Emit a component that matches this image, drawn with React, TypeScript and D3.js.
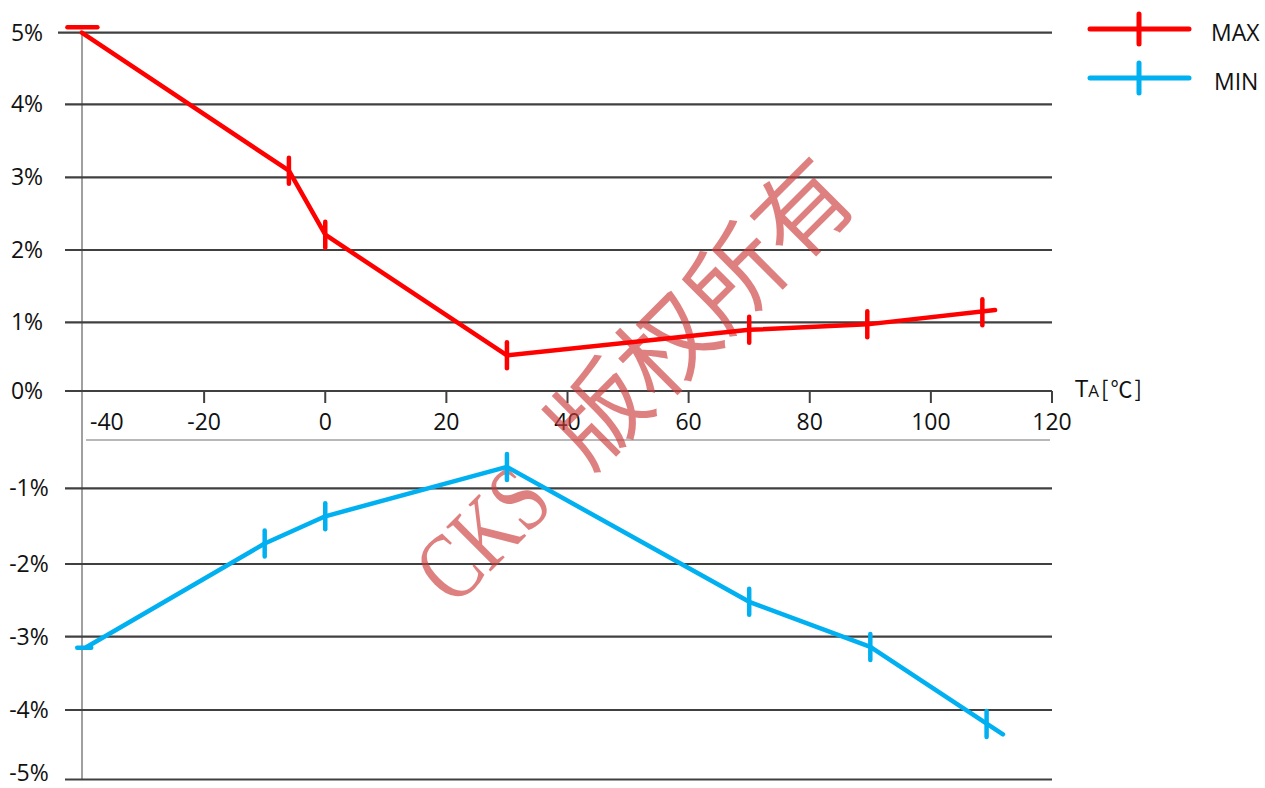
import React from "react";
import * as d3 from "d3";

// ---- data ----
const X_TICKS = [-40, -20, 0, 20, 40, 60, 80, 100, 120];
const Y_TICKS = [-5, -4, -3, -2, -1, 0, 1, 2, 3, 4, 5];
const Y_TICK_LABELS = ["-5%", "-4%", "-3%", "-2%", "-1%", "0%", "1%", "2%", "3%", "4%", "5%"];

const MAX_TEMPS = [-40.2, -6, 0, 30, 70, 89.5, 110.6];
const MAX_VALUES = [5.0, 3.09, 2.21, 0.52, 0.89, 0.97, 1.17];
const MAX_MARKER_TEMPS = [-40.1, -6, 0, 30, 70, 89.5, 108.5];
const MAX_MARKER_VALUES = [5.075, 3.09, 2.21, 0.52, 0.89, 0.97, 1.14];
const MAX_MARKER_KIND = ["h", "v", "v", "v", "v", "v", "v"];

const MIN_TEMPS = [-39.4, -10, 0, 30, 70, 90, 111.9];
const MIN_VALUES = [-3.14, -1.73, -1.37, -0.78, -2.52, -3.14, -4.35];
const MIN_MARKER_TEMPS = [-39.8, -10, 0, 30, 70, 90, 109.2];
const MIN_MARKER_VALUES = [-3.15, -1.73, -1.37, -0.78, -2.52, -3.14, -4.2];
const MIN_MARKER_KIND = ["h", "v", "v", "v", "v", "v", "v"];

const SERIES_NAMES = ["MAX", "MIN"];
const X_AXIS_TITLE = "T";
const X_AXIS_SUB = "A";
const X_AXIS_UNIT = "[℃]";
const WATERMARK_LATIN = "CKS";
const WATERMARK_CJK = "版权所有";

const RED = "#ff0000";
const BLUE = "#00b0f0";
const GRID = "#404040";
const FONT = "'Open Sans', 'Noto Sans', sans-serif";

export default function App() {
  const W = 1265;
  const H = 788;

  const x = d3.scaleLinear().domain([-40, 120]).range([83, 1052]);
  // The original chart uses a broken value axis (gap between 0% and -1%).
  const y = d3
    .scaleLinear()
    .domain(Y_TICKS)
    .range([779.5, 710, 636.7, 564, 488.3, 391, 322.3, 250, 177.3, 104.3, 32.7]);

  const line = d3
    .line<[number, number]>()
    .x((d) => x(d[0]))
    .y((d) => y(d[1]));

  const maxPts = MAX_TEMPS.map((t, i) => [t, MAX_VALUES[i]] as [number, number]);
  const minPts = MIN_TEMPS.map((t, i) => [t, MIN_VALUES[i]] as [number, number]);

  const gridStart = (v: number) => (v === 5 ? 58 : 65);
  const gridEnd = 1052;
  const y0 = y(0);

  const markers = (
    temps: number[],
    vals: number[],
    kinds: string[],
    color: string,
    hHalf: number
  ) =>
    temps.map((t, i) => {
      const cx = x(t);
      const cy = y(vals[i]);
      if (kinds[i] === "h") {
        return (
          <line
            key={i}
            x1={cx - hHalf}
            x2={cx + hHalf}
            y1={cy}
            y2={cy}
            stroke={color}
            strokeWidth={4.5}
            strokeLinecap="round"
          />
        );
      }
      return (
        <line
          key={i}
          x1={cx}
          x2={cx}
          y1={cy - 13}
          y2={cy + 13}
          stroke={color}
          strokeWidth={4.5}
          strokeLinecap="round"
        />
      );
    });

  const wmSize = 96;

  return (
    <svg
      width={W}
      height={H}
      style={{ position: "absolute", left: 0, top: 0, background: "#fff" }}
      fontFamily={FONT}
    >
      <rect x={0} y={0} width={W} height={H} fill="#fff" />

      {/* vertical axis */}
      <line x1={x(-40) - 1} x2={x(-40) - 1} y1={y(5)} y2={y(-5)} stroke="#808080" strokeWidth={1.5} />

      {/* horizontal gridlines */}
      {Y_TICKS.map((v) => (
        <line
          key={v}
          x1={gridStart(v)}
          x2={gridEnd}
          y1={y(v)}
          y2={y(v)}
          stroke={GRID}
          strokeWidth={2.2}
        />
      ))}

      {/* separator under x labels */}
      <line x1={86} x2={1050} y1={440} y2={440} stroke="#a0a0a0" strokeWidth={1.5} />

      {/* x ticks */}
      {X_TICKS.filter((t) => t > -40).map((t) => (
        <line key={t} x1={x(t)} x2={x(t)} y1={y0} y2={y0 + 12} stroke={GRID} strokeWidth={2} />
      ))}

      {/* x tick labels */}
      {X_TICKS.map((t) => (
        <text
          key={t}
          x={t === -40 ? x(t) + 7 : x(t)}
          y={430}
          fontSize={23}
          textAnchor={t === -40 ? "start" : "middle"}
          fill="#111"
        >
          {t}
        </text>
      ))}

      {/* y tick labels */}
      {Y_TICKS.map((v, i) => (
        <text
          key={v}
          x={v < 0 ? 29 : 27}
          y={v === -5 ? y(v) + 1.5 : y(v) + 8}
          fontSize={23}
          textAnchor="middle"
          fill="#111"
        >
          {Y_TICK_LABELS[i]}
        </text>
      ))}

      {/* x axis title */}
      <text x={1075} y={397} fill="#111">
        <tspan fontSize={24}>{X_AXIS_TITLE}</tspan>
        <tspan fontSize={17}>{X_AXIS_SUB}</tspan>
        <tspan fontSize={22} fontFamily="'Noto Sans CJK SC', sans-serif" dx={2} letterSpacing={2}>
          {X_AXIS_UNIT}
        </tspan>
      </text>

      {/* watermark */}
      <g transform={`translate(454,608) rotate(-45)`} fill="rgba(205,60,60,0.65)">
        <text
          x={0}
          y={0}
          fontSize={wmSize}
          fontFamily="'Liberation Serif', 'DejaVu Serif', serif"
          textLength={wmSize * 1.5}
          lengthAdjust="spacingAndGlyphs"
        >
          {WATERMARK_LATIN}
        </text>
        <text
          x={wmSize * 2}
          y={0}
          fontSize={wmSize}
          fontWeight={400}
          fontFamily="'Noto Sans CJK SC', sans-serif"
        >
          {WATERMARK_CJK}
        </text>
      </g>

      {/* series lines */}
      <path
        d={line(maxPts) || ""}
        fill="none"
        stroke={RED}
        strokeWidth={4.5}
        strokeLinejoin="round"
        strokeLinecap="round"
      />
      <path
        d={line(minPts) || ""}
        fill="none"
        stroke={BLUE}
        strokeWidth={4.5}
        strokeLinejoin="round"
        strokeLinecap="round"
      />
      {markers(MAX_MARKER_TEMPS, MAX_MARKER_VALUES, MAX_MARKER_KIND, RED, 15)}
      {markers(MIN_MARKER_TEMPS, MIN_MARKER_VALUES, MIN_MARKER_KIND, BLUE, 7)}

      {/* legend */}
      {[RED, BLUE].map((c, i) => {
        const ly = 29 + i * 49;
        return (
          <g key={i}>
            <line x1={1090} x2={1189} y1={ly} y2={ly} stroke={c} strokeWidth={5} strokeLinecap="round" />
            <line x1={1139} x2={1139} y1={ly - 15} y2={ly + 15} stroke={c} strokeWidth={5} strokeLinecap="round" />
            <text x={i === 0 ? 1211 : 1214} y={ly + 12} fontSize={23} fill="#111">
              {SERIES_NAMES[i]}
            </text>
          </g>
        );
      })}
    </svg>
  );
}
